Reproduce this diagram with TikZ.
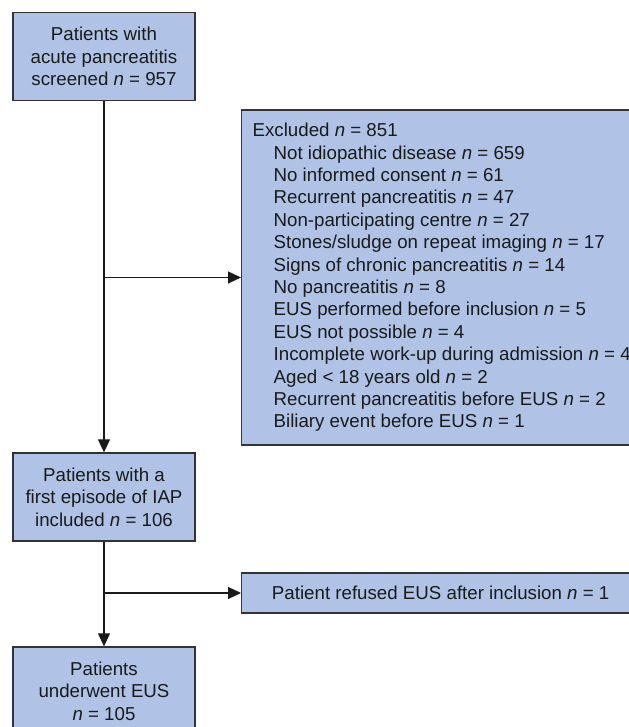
\documentclass[tikz,border=0pt]{standalone}
\usepackage{fontspec}
\setmainfont{Liberation Sans}
\usetikzlibrary{arrows.meta,positioning}
\definecolor{boxblue}{HTML}{B0C3E6}
\definecolor{boxline}{HTML}{333333}
\definecolor{inkcolor}{HTML}{1A1A1A}

\begin{document}
\begin{tikzpicture}[x=0.5pt, y=0.5pt,
  every node/.style={align=center, text=inkcolor, font=\fontsize{9.35}{11.2}\selectfont},
  flowbox/.style={draw=boxline, line width=0.65pt, fill=boxblue, minimum width=91pt, minimum height=44pt, inner sep=2pt},
  sidebox/.style={flowbox, anchor=west, align=left},
  flowarrow/.style={draw=inkcolor, line width=0.6pt, -{Triangle[length=6.5pt, width=6pt]}}]
\useasboundingbox (0,0) rectangle (628,727);

% Screening
\node[flowbox] (screened) at (104,670.5) {Patients with\\acute pancreatitis\\screened \textit{n} = 957};

% Exclusions
\node[sidebox, minimum height=167.5pt, inner xsep=5.5pt] (excluded) at (241,449.5) {%
Excluded \textit{n} = 851\\
\hspace*{10.5pt}Not idiopathic disease \textit{n} = 659\\
\hspace*{10.5pt}No informed consent \textit{n} = 61\\
\hspace*{10.5pt}Recurrent pancreatitis \textit{n} = 47\\
\hspace*{10.5pt}Non-participating centre \textit{n} = 27\\
\hspace*{10.5pt}Stones/sludge on repeat imaging \textit{n} = 17\\
\hspace*{10.5pt}Signs of chronic pancreatitis \textit{n} = 14\\
\hspace*{10.5pt}No pancreatitis \textit{n} = 8\\
\hspace*{10.5pt}EUS performed before inclusion \textit{n} = 5\\
\hspace*{10.5pt}EUS not possible \textit{n} = 4\\
\hspace*{10.5pt}Incomplete work-up during admission \textit{n} = 4\\
\hspace*{10.5pt}Aged < 18 years old \textit{n} = 2\\
\hspace*{10.5pt}Recurrent pancreatitis before EUS \textit{n} = 2\\
\hspace*{10.5pt}Biliary event before EUS \textit{n} = 1};

% Inclusion
\node[flowbox] (included) at (104,230) {Patients with a\\first episode of IAP\\included \textit{n} = 106};

% Refusal
\node[sidebox, align=center, minimum height=20pt, minimum width=199pt] (refused) at (241,134) {Patient refused EUS after inclusion \textit{n} = 1};

% EUS
\node[flowbox] (underwent) at (104,36) {Patients\\underwent EUS\\\textit{n} = 105};

% Connectors
\draw[flowarrow] (screened) -- (included);
\draw[flowarrow] (screened.south |- excluded.west) -- (excluded.west);
\draw[flowarrow] (included) -- (underwent);
\draw[flowarrow] (included.south |- refused.west) -- (refused.west);
\end{tikzpicture}
\end{document}
